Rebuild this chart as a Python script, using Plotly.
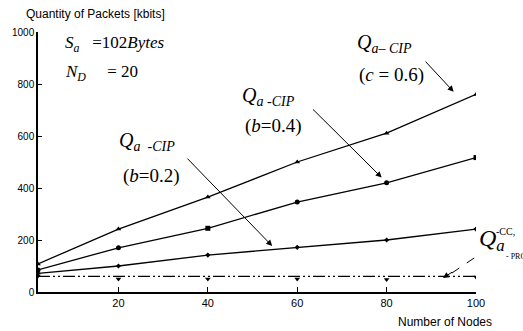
import plotly.graph_objects as go

nodes = [2, 20, 40, 60, 80, 100]
q_c06 = [108, 242, 365, 500, 611, 760]
q_b04 = [85, 170, 245, 346, 420, 517]
q_b02 = [72, 100, 142, 172, 200, 242]
q_cc_line = [60, 60, 60, 60, 60, 60]
q_cc_pts = [62, 50, 50, 50, 48, 58]

x_ticks = [20, 40, 60, 80, 100]
y_ticks = [0, 200, 400, 600, 800, 1000]

SERIF = "Liberation Serif"
SANS = "Liberation Sans"

fig = go.Figure()
fig.add_trace(go.Scatter(x=nodes, y=q_c06, mode="lines+markers",
                         line=dict(color="black", width=1.3),
                         marker=dict(symbol="triangle-up", size=5, color="black")))
fig.add_trace(go.Scatter(x=nodes, y=q_b04, mode="lines+markers",
                         line=dict(color="black", width=1.3),
                         marker=dict(symbol=["circle", "circle", "square", "circle", "circle", "square"],
                                     size=5, color="black")))
fig.add_trace(go.Scatter(x=nodes, y=q_b02, mode="lines+markers",
                         line=dict(color="black", width=1.3),
                         marker=dict(symbol="diamond", size=4, color="black")))
fig.add_trace(go.Scatter(x=nodes, y=q_cc_line, mode="lines",
                         line=dict(color="black", width=1.2, dash="12px,3px,2px,3px,2px,3px")))
fig.add_trace(go.Scatter(x=nodes, y=q_cc_pts, mode="markers",
                         marker=dict(symbol="triangle-down", size=5, color="black")))

def txt(x, y, t, size, xanchor="center", font=SERIF, ref="x"):
    fig.add_annotation(x=x, y=y, xref=ref, yref=ref.replace("x", "y"), text=t, showarrow=False,
                       xanchor=xanchor, yanchor="middle",
                       font=dict(family=font, size=size, color="black"))

def arrow(x0, y0, x1, y1):
    fig.add_annotation(x=x1, y=y1, ax=x0, ay=y0, xref="x", yref="y", axref="x", ayref="y",
                       text="", showarrow=True, arrowhead=2, arrowsize=1.2, arrowwidth=1,
                       arrowcolor="black")

txt(26.3, 580, "<i>Q</i><sub><i>a</i>  -<i>CIP</i></sub>", 20)
txt(27.5, 445, "(<i>b</i>=0.2)", 19)
arrow(35.1, 519, 54.4, 177)

txt(53.5, 752, "<i>Q</i><sub><i>a</i> -<i>CIP</i></sub>", 20)
txt(54.8, 640, "(<i>b</i>=0.4)", 19)
arrow(63.2, 708, 78.9, 440)

txt(79.5, 955, "<i>Q</i><sub><i>a</i>– <i>CIP</i></sub>", 20)
txt(81.0, 833, "(<i>c</i> = 0.6)", 19)
arrow(88.4, 892, 95.0, 770)

# right-edge label (partially cut off in the original)
txt(1.002, 0.20, "<i>Q</i><sub><i>a</i></sub>", 24, xanchor="left", ref="paper")
txt(1.040, 0.232, "-CC,", 10, xanchor="left", ref="paper")
txt(1.064, 0.138, "- PRO", 8, xanchor="left", ref="paper")
fig.add_shape(type="line", x0=99.6, y0=131, x1=93.5, y1=60, xref="x", yref="y",
              line=dict(color="black", width=1, dash="dash"))
fig.add_annotation(x=92.6, y=54, ax=95.0, ay=80, xref="x", yref="y", axref="x", ayref="y",
                   text="", showarrow=True, arrowhead=2, arrowsize=1.2, arrowwidth=1,
                   arrowcolor="black")

txt(7.7, 955, "<i>S</i><sub><i>a</i></sub>   =102<i>Bytes</i>", 17, xanchor="left")
txt(7.7, 843, "<i>N</i><sub><i>D</i></sub>     = 20", 17, xanchor="left")

fig.add_annotation(x=-0.031, y=1.069, xref="paper", yref="paper", xanchor="left", yanchor="middle",
                   text="Quantity of Packets [kbits]", showarrow=False,
                   font=dict(family=SANS, size=12, color="black"))
fig.add_annotation(x=1.04, y=-0.115, xref="paper", yref="paper", xanchor="right", yanchor="middle",
                   text="Number of Nodes", showarrow=False,
                   font=dict(family=SANS, size=12, color="black"))

fig.update_xaxes(range=[2, 100], tickvals=x_ticks, ticktext=[str(v) for v in x_ticks],
                 showline=True, linecolor="black", linewidth=1.5, showgrid=False, zeroline=False,
                 ticks="inside", ticklen=5, tickcolor="black",
                 tickfont=dict(family=SANS, size=11, color="black"))
fig.update_yaxes(range=[0, 1000], tickvals=y_ticks, ticktext=[str(v) for v in y_ticks],
                 showline=True, linecolor="black", linewidth=1.5, showgrid=False, zeroline=False,
                 ticks="inside", ticklen=4, tickcolor="black",
                 tickfont=dict(family=SANS, size=10, color="black"))

fig.update_layout(width=523, height=331, showlegend=False,
                  margin=dict(l=29, r=47, t=32, b=39),
                  plot_bgcolor="white", paper_bgcolor="white")

fig.write_html("out.html")
